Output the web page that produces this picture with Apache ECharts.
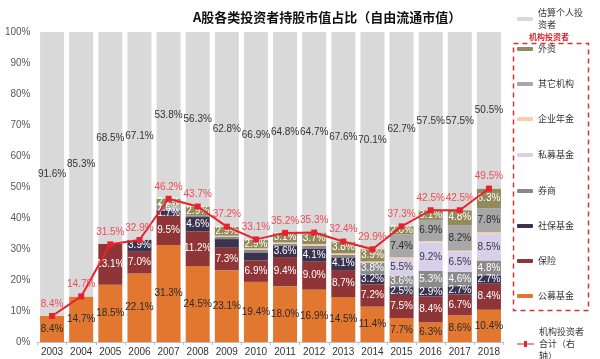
<!DOCTYPE html>
<html><head><meta charset="utf-8">
<script src="https://cdn.jsdelivr.net/npm/echarts@6/dist/echarts.min.js"></script>
<style>html,body{margin:0;padding:0;background:#fff}#c{width:600px;height:359px}</style>
</head><body><div id="c"></div>
<script>
const years = ['2003','2004','2005','2006','2007','2008','2009','2010','2011','2012','2013','2014','2015','2016','2017','2018'];
const gongmu   = [8.4,14.7,18.5,22.1,31.3,24.5,23.1,19.4,18.0,16.9,14.5,11.4,7.7,6.3,8.6,10.4];
const baoxian  = [0,0,13.1,7.0,9.5,11.2,7.3,6.9,9.4,9.0,8.7,7.2,7.5,8.4,6.7,8.4];
const shebao   = [0,0,0,3.9,1.7,4.6,2.8,2.6,3.6,4.1,4.1,3.2,2.5,2.9,2.7,2.7];
const quanshang= [0,0,0,0,1.5,0.5,0.8,0.9,0.7,1.1,0.8,3.8,3.6,5.3,4.6,4.8];
const simu     = [0,0,0,0,0,0,0,0,0,0,0,0,5.5,9.2,6.5,8.5];
const nianjin  = [0,0,0,0,0,0,0.3,0.4,0.4,0.5,0.5,0.4,0.5,0.4,0.4,0.6];
const qita     = [0,0,0,0,0,0,0,0,0,0,0,0,7.4,6.9,8.2,7.8];
const waizi    = [0,0,0,0,2.2,2.9,2.9,2.9,3.1,3.7,3.8,3.9,2.6,3.1,4.8,6.3];
const geren    = [91.6,85.3,68.5,67.1,53.8,56.3,62.8,66.9,64.8,64.7,67.6,70.1,62.7,57.5,57.5,50.5];
const jigouTotal = [8.4,14.7,31.5,32.9,46.2,43.7,37.2,33.1,35.2,35.3,32.4,29.9,37.3,42.5,42.5,49.5];
const yTicks = ['0%','10%','20%','30%','40%','50%','60%','70%','80%','90%','100%'];
const unlabeled = {'社保基金':[6,7]};

const numFont = 'Liberation Sans';
const cjk = 'Noto Sans CJK SC';
function mkBar(name, data, color, labelColor){
  return {
    name, type:'bar', stack:'s', data, barWidth:24,
    itemStyle:{color},
    label:{show:true, position:'inside', color:labelColor, fontFamily:numFont, fontSize:10,
      formatter:p=>{
        if(p.value<1.5) return '';
        if(unlabeled[name] && unlabeled[name].includes(p.dataIndex)) return '';
        return p.value.toFixed(1)+'%';
      }},
    emphasis:{disabled:true}
  };
}
const series = [
  mkBar('公募基金', gongmu, '#e2772f', '#2b2b2b'),
  mkBar('保险', baoxian, '#8f3537', '#ffffff'),
  mkBar('社保基金', shebao, '#3a3350', '#ffffff'),
  mkBar('券商', quanshang, '#8a8a8a', '#ffffff'),
  mkBar('私募基金', simu, '#d8d0e8', '#3a3350'),
  mkBar('企业年金', nianjin, '#f6cfae', '#333333'),
  mkBar('其它机构', qita, '#a7a7a7', '#2b2b2b'),
  mkBar('外资', waizi, '#938a5c', '#ffffff'),
  mkBar('估算个人投资者', geren, '#d9d9d9', '#333333'),
  {
    name:'机构投资者合计（右轴）', type:'line', data:jigouTotal,
    color:'#e8222b',
    lineStyle:{color:'#e8222b', width:2},
    itemStyle:{color:'#e8222b'},
    symbol:'rect', symbolSize:6,
    label:{show:true, position:'top', distance:4, color:'#ef4b55', fontFamily:numFont, fontSize:10,
      formatter:p=>p.value.toFixed(1)+'%'},
    z:5, emphasis:{disabled:true}
  }
];
const legendItems = [
  ['外资',49],['其它机构',84],['企业年金',119],['私募基金',155],
  ['券商',191],['社保基金',226],['保险',261],['公募基金',296]
];
const legendText = {fontFamily:cjk, fontSize:9, color:'#333', lineHeight:12};
const legends = legendItems.map(([n,y])=>({
  data:[n], left:517, top:y-6, orient:'vertical', itemWidth:16, itemHeight:4,
  itemGap:0, padding:0, selectedMode:false, textStyle:legendText
}));
legends.push({
  data:['估算个人投资者'], left:517, top:7, itemWidth:16, itemHeight:4, padding:0,
  selectedMode:false, textStyle:legendText, formatter:()=>'估算个人投\n资者'
});
legends.push({
  data:[{name:'机构投资者合计（右轴）', icon:'path://M0,4.5L7,4.5L7,2L10,2L10,4.5L17,4.5L17,5.5L10,5.5L10,8L7,8L7,5.5L0,5.5Z'}],
  left:517, top:326, itemWidth:17, itemHeight:6, padding:0,
  selectedMode:false, textStyle:legendText, formatter:()=>'机构投资者\n合计（右\n轴）'
});

const chart = echarts.init(document.getElementById('c'));
chart.setOption({
  animation:false,
  title:{text:'A股各类投资者持股市值占比（自由流通市值）', left:188, top:6,
    textStyle:{fontFamily:cjk, fontSize:13, fontWeight:'bold', color:'#111'}},
  grid:{left:37.5, right:96.5, top:32, bottom:17, containLabel:false},
  xAxis:{type:'category', data:years,
    axisLine:{lineStyle:{color:'#bfbfbf'}},
    axisTick:{show:true, length:3, lineStyle:{color:'#bfbfbf'}},
    axisLabel:{color:'#333', fontFamily:numFont, fontSize:10, margin:5}},
  yAxis:{type:'value', min:0, max:100, interval:10,
    axisLine:{show:false}, axisTick:{show:false}, splitLine:{show:false},
    axisLabel:{color:'#595959', fontFamily:numFont, fontSize:10, margin:7,
      formatter:v=>yTicks[Math.round(v/10)]}},
  legend:legends,
  graphic:[
    {type:'rect', shape:{x:513.5, y:43.5, width:75, height:267},
     style:{fill:'none', stroke:'#d9303a', lineWidth:1.5, lineDash:[5,4]}, z:10},
    {type:'text', left:529, top:33,
     style:{text:'机构投资者', fill:'#e0202a', font:'bold 8px "Noto Sans CJK SC"'}, z:11}
  ],
  series
});
</script></body></html>
